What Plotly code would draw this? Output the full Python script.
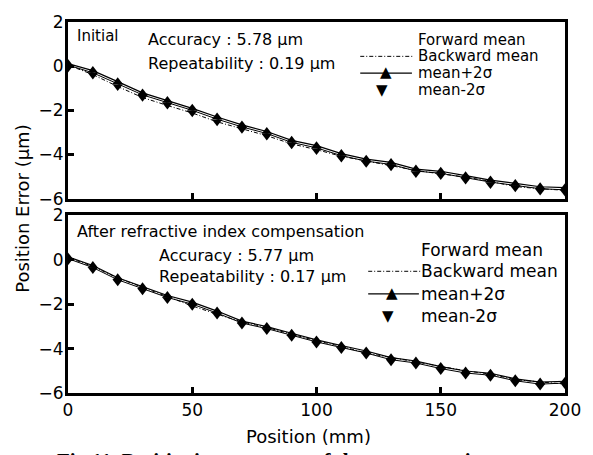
import plotly.graph_objects as go

# ---------------- data ----------------
position = [0, 10, 20, 30, 40, 50, 60, 70, 80, 90, 100,
            110, 120, 130, 140, 150, 160, 170, 180, 190, 200]

# Initial (top panel)
top_forward = [0.05, -0.3, -0.8, -1.3, -1.65, -2.0, -2.4, -2.75, -3.05, -3.45, -3.7,
               -4.05, -4.3, -4.45, -4.75, -4.85, -5.05, -5.25, -5.4, -5.55, -5.6]
top_backward = [0.05, -0.38, -0.92, -1.42, -1.78, -2.12, -2.52, -2.82, -3.15, -3.52, -3.78,
                -4.08, -4.3, -4.5, -4.72, -4.88, -5.02, -5.22, -5.45, -5.55, -5.62]
top_plus = [0.12, -0.2, -0.7, -1.21, -1.56, -1.91, -2.3, -2.66, -2.96, -3.36, -3.6,
            -3.96, -4.21, -4.36, -4.66, -4.76, -4.96, -5.16, -5.31, -5.46, -5.5]
top_minus = [-0.08, -0.4, -0.92, -1.41, -1.76, -2.11, -2.52, -2.86, -3.16, -3.56, -3.82,
             -4.16, -4.4, -4.56, -4.86, -4.95, -5.15, -5.36, -5.5, -5.65, -5.7]

# After refractive index compensation (bottom panel)
bot_forward = [0.05, -0.35, -0.9, -1.3, -1.7, -2.0, -2.4, -2.85, -3.1, -3.4, -3.7,
               -3.95, -4.2, -4.5, -4.65, -4.9, -5.1, -5.2, -5.45, -5.6, -5.55]
bot_backward = [0.1, -0.3, -0.82, -1.25, -1.65, -2.08, -2.45, -2.8, -3.05, -3.35, -3.65,
                -3.9, -4.2, -4.4, -4.6, -4.82, -5.0, -5.15, -5.4, -5.5, -5.6]
bot_plus = [0.13, -0.26, -0.81, -1.21, -1.61, -1.91, -2.31, -2.76, -3.01, -3.31, -3.61,
            -3.86, -4.11, -4.41, -4.56, -4.81, -5.01, -5.11, -5.36, -5.51, -5.47]
bot_minus = [-0.04, -0.44, -0.99, -1.39, -1.79, -2.09, -2.49, -2.94, -3.19, -3.49, -3.79,
             -4.04, -4.29, -4.59, -4.74, -4.99, -5.19, -5.29, -5.54, -5.69, -5.63]

y_ticks = [2, 0, -2, -4, -6]
x_ticks_top = [50, 100, 150]
x_ticks_bottom = [0, 50, 100, 150, 200]

legend_labels = ["Forward mean", "Backward mean", "mean+2σ", "mean-2σ"]

# ---------------- figure ----------------
W, H = 593, 455
ML, MR, MT, MB = 68, 25, 15, 62
PW, PH = W - ML - MR, H - MT - MB


def px(xp):
    return (xp - ML) / PW


def py(yp):
    return (H - MB - yp) / PH


FONT = "DejaVu Sans"
fig = go.Figure()


def add_panel(xa, ya, fwd, bwd, plus, minus):
    fig.add_trace(go.Scatter(x=position, y=fwd, mode="lines",
                             line=dict(color="black", width=1),
                             xaxis=xa, yaxis=ya, showlegend=False))
    fig.add_trace(go.Scatter(x=position, y=bwd, mode="lines",
                             line=dict(color="black", width=1, dash="4px,2px,1px,2px"),
                             xaxis=xa, yaxis=ya, showlegend=False))
    fig.add_trace(go.Scatter(x=position, y=plus, mode="lines+markers",
                             line=dict(color="black", width=1.2),
                             marker=dict(symbol="triangle-up", size=9, color="black"),
                             xaxis=xa, yaxis=ya, showlegend=False))
    fig.add_trace(go.Scatter(x=position, y=minus, mode="markers",
                             marker=dict(symbol="triangle-down", size=9, color="black"),
                             xaxis=xa, yaxis=ya, showlegend=False))


add_panel("x", "y", top_forward, top_backward, top_plus, top_minus)
add_panel("x2", "y2", bot_forward, bot_backward, bot_plus, bot_minus)

top_dom = [py(195), 1.0]
bot_dom = [0.0, py(212)]

axis_common = dict(showline=True, linewidth=3, linecolor="black", mirror=True,
                   ticks="inside", ticklen=6, tickwidth=3, tickcolor="black",
                   showgrid=False, zeroline=False,
                   tickfont=dict(family=FONT, size=17, color="black"))

fig.update_layout(
    width=W, height=H,
    margin=dict(l=ML, r=MR, t=MT, b=MB),
    paper_bgcolor="white", plot_bgcolor="white",
    showlegend=False,
    xaxis=dict(domain=[0, 1], range=[0, 200], tickvals=x_ticks_top,
               showticklabels=False, anchor="y", **axis_common),
    yaxis=dict(domain=top_dom, range=[-6, 2], tickvals=y_ticks, anchor="x",
               ticklabelstandoff=-2, **axis_common),
    xaxis2=dict(domain=[0, 1], range=[0, 200], tickvals=x_ticks_bottom,
                anchor="y2", **axis_common),
    yaxis2=dict(domain=bot_dom, range=[-6, 2], tickvals=y_ticks, anchor="x2",
                ticklabelstandoff=-2, **axis_common),
)

ann = []


def text(x, y, s, size=16, xanchor="left", **kw):
    ann.append(dict(x=x, y=y, xref="paper", yref="paper", text=s, showarrow=False,
                    xanchor=xanchor, yanchor="middle",
                    font=dict(family=FONT, size=size, color="black"), **kw))


# panel texts
text(px(75), py(29), "Initial", size=15)
text(px(146), py(33), "Accuracy : 5.78 μm")
text(px(146), py(57), "Repeatability : 0.19 μm")
text(px(75), py(228), "After refractive index compensation")
text(px(158), py(253), "Accuracy : 5.77 μm")
text(px(158), py(274), "Repeatability : 0.17 μm")

# axis titles
text(px(310), py(437), "Position (mm)", size=18, xanchor="center")
ann.append(dict(x=px(22), y=py(205), xref="paper", yref="paper", text="Position Error (μm)",
                showarrow=False, textangle=-90, xanchor="center", yanchor="middle",
                font=dict(family=FONT, size=18, color="black")))

# caption (cut off at bottom edge in the reference)
ann.append(dict(x=px(55), y=py(448), xref="paper", yref="paper",
                text="<b>Fig.11  Positioning accuracy of the compensation system</b>",
                showarrow=False, xanchor="left", yanchor="top",
                font=dict(family="Liberation Serif", size=21, color="black")))

# manual legends
shapes = []


def legend(rows_y, x_text, x0, x1, x_tri, size):
    for lab, yy in zip(legend_labels, rows_y):
        text(px(x_text), py(yy), lab, size=size)
    shapes.append(dict(type="line", xref="paper", yref="paper",
                       x0=px(x0), x1=px(x1), y0=py(rows_y[1]), y1=py(rows_y[1]),
                       line=dict(color="black", width=1, dash="4px,2px,1px,2px")))
    shapes.append(dict(type="line", xref="paper", yref="paper",
                       x0=px(x0), x1=px(x1 - 2), y0=py(rows_y[2]), y1=py(rows_y[2]),
                       line=dict(color="black", width=1.2)))
    ann.append(dict(x=px(x_tri), y=py(rows_y[2] - 1), xref="paper", yref="paper", text="▲",
                    showarrow=False, xanchor="center", yanchor="middle",
                    font=dict(family=FONT, size=15, color="black")))
    ann.append(dict(x=px(x_tri - 4), y=py(rows_y[3]), xref="paper", yref="paper", text="▼",
                    showarrow=False, xanchor="center", yanchor="middle",
                    font=dict(family=FONT, size=15, color="black")))


legend([33, 50, 67, 84], 418, 362, 416, 388, 15)
legend([247, 269, 292, 315], 421, 370, 423, 394, 17)

fig.update_layout(annotations=ann, shapes=shapes)

fig.write_html("out.html", config={"displayModeBar": False},
               post_script="document.body.style.margin='0';")
